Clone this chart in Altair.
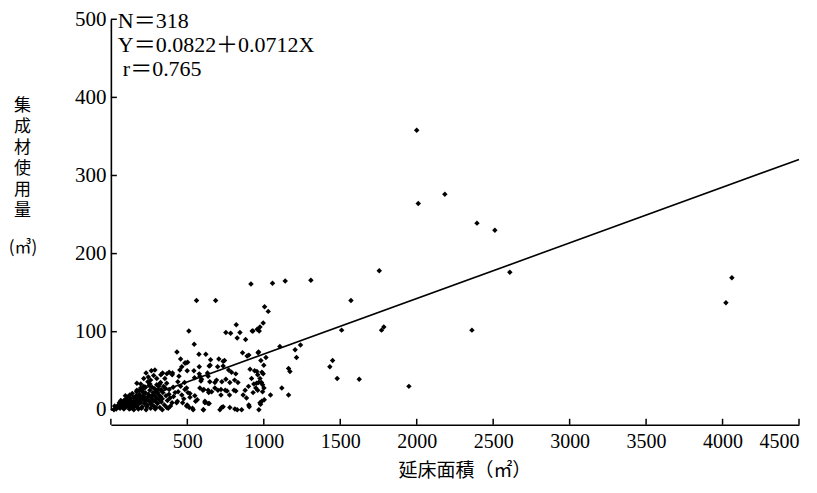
import altair as alt
import pandas as pd

# ---- data (延床面積 m², 集成材使用量 m³) ----
area = [
    2000, 2010, 2184, 2394, 2511, 2609, 2361, 4022, 4061,
    1755, 1570, 1308, 1140, 1057, 1005, 1029, 996, 1785, 1770, 1509, 1105, 1240, 1205, 1214,
    1014, 981, 1000, 1450, 1432, 1162, 1171, 988, 996, 1480, 1624, 992, 1001, 992, 1118,
    1044, 1162, 1949, 987, 979, 1003,
    916, 975, 970, 929, 963, 560, 685, 510, 820, 752, 783, 844, 826, 881, 924, 957,
    545, 432, 576, 621, 456, 502, 861, 891, 706, 734, 649, 632, 698, 789, 817, 955,
    652, 902, 966, 490, 464, 743, 734, 770, 643, 578, 543, 578, 484,
    288, 327, 366, 403, 353, 451, 499, 445, 547, 589, 582, 636, 680, 726, 691, 752,
    778, 809, 831, 817, 878, 948, 966, 953, 593, 647, 910, 940, 960, 975, 985, 960,
    930, 900, 935, 920, 338, 381, 401, 325, 438, 456, 482,
    902, 826, 734, 615, 643, 606, 495, 512, 534, 554, 375, 430, 477, 517, 440, 464,
    484, 504, 602, 640, 680, 720, 760, 805, 700, 748, 776, 720, 865, 887, 905, 855,
    975, 968, 495, 517, 549, 582, 608, 636, 659, 469, 499, 565, 615, 636, 604, 538,
    724, 778, 811, 713, 336, 387, 400, 435, 366, 336,
    242, 255, 227, 209, 188, 168, 124, 107, 85, 63, 41, 20, 286, 312, 329, 355, 381, 407,
    30, 45, 50, 60, 70, 75, 80, 90, 95, 100, 105, 110, 115, 120, 125, 130,
    135, 140, 145, 150, 155, 160, 165, 170, 175, 180, 185, 190, 195, 200, 205, 210,
    215, 220, 225, 230, 235, 240, 245, 250, 255, 260, 265, 270, 275, 280, 285, 290,
    295, 300, 305, 310, 315, 320, 325, 330, 340, 350, 360, 370, 380, 390, 410, 420,
    25, 35, 55, 65, 85, 100, 115, 130, 145, 160, 175, 190, 205, 220, 235, 250,
    265, 280, 295, 310, 120, 150, 180, 200, 230, 260, 290, 95, 140, 170, 195, 215,
    250, 270, 300, 320, 345, 365, 215, 245, 260, 170, 195, 280, 300, 230, 265,
]
volume = [
    358, 264, 276, 239, 230, 176, 102, 137, 169,
    178, 140, 166, 165, 162, 132, 126, 111, 106, 102, 102, 81, 83, 77, 67,
    67, 63, 57, 63, 55, 53, 49, 48, 46, 40, 39, 32, 28, 23, 28,
    19, 19, 30, 11, 7, 13,
    161, 106, 101, 101, 73, 140, 140, 101, 109, 99, 98, 99, 92, 90, 101, 103,
    84, 74, 71, 71, 65, 61, 73, 69, 65, 62, 57, 47, 55, 48, 46, 49,
    64, 70, 74, 60, 55, 63, 56, 51, 56, 55, 50, 46, 60,
    51, 45, 46, 47, 40, 51, 50, 43, 41, 37, 43, 43, 35, 36, 38, 39,
    35, 38, 35, 24, 25, 28, 35, 34, 39, 36, 52, 50, 45, 40, 35, 25,
    22, 30, 33, 40, 47, 48, 45, 35, 36, 30, 35,
    6, 0, 4, 9, 8, 0, 5, 3, 2, 11, 2, 9, 14, 16, 23, 19,
    26, 22, 25, 22, 28, 26, 24, 25, 25, 25, 19, 19, 19, 15, 4, 0,
    9, 0, 28, 21, 18, 28, 26, 25, 23, 9, 6, 13, 11, 8, 0, 0,
    3, 3, 1, 0, 14, 15, 9, 11, 3, 0,
    36, 33, 29, 26, 25, 23, 19, 15, 12, 9, 4, 0, 27, 30, 26, 28, 26, 29,
    2, 3, 6, 2, 5, 8, 3, 6, 10, 4, 8, 12, 5, 9, 14, 6,
    11, 3, 16, 8, 12, 5, 18, 10, 14, 7, 20, 12, 9, 16, 4, 13,
    19, 8, 22, 11, 15, 6, 20, 12, 25, 9, 17, 14, 22, 5, 18, 11,
    24, 15, 8, 20, 13, 3, 17, 10, 22, 6, 18, 12, 20, 5, 17, 22,
    5, 1, 9, 12, 1, 14, 17, 2, 7, 13, 3, 17, 23, 15, 4, 18,
    7, 12, 3, 26, 1, 0, 1, 2, 0, 2, 1, 18, 21, 25, 28, 30,
    31, 29, 32, 33, 30, 34, 40, 42, 38, 34, 33, 44, 40, 47, 50,
]

x_ticks = [0, 500, 1000, 1500, 2000, 2500, 3000, 3500, 4000, 4500]
y_ticks = [0, 100, 200, 300, 400, 500]
fit_x = [0, 4500]
intercept = 0.0822
slope = 0.0712
stats_lines = ["N＝318", "Y＝0.0822＋0.0712X"]
stats_r = "r＝0.765"
y_title = ["集", "成", "材", "使", "用", "量"]
y_unit = "(㎥)"
x_title = "延床面積（㎡）"

W, H = 689, 391
XOFF = 15
SERIF = "Liberation Serif, Noto Sans CJK JP"
CJK = "Noto Sans CJK JP"

pts = pd.DataFrame({"area": area, "volume": volume})
xs = alt.Scale(domain=[0, 4500], nice=False)
ys = alt.Scale(domain=[0, 500], nice=False)

x_axis = alt.Axis(
    values=x_ticks, format="d",
    labelExpr="datum.value == 0 ? '' : datum.label",
    offset=XOFF, tickSize=0, labelPadding=7, grid=False,
    domainColor="black", domainWidth=1.6,
    labelFont=SERIF, labelFontSize=20, labelColor="black",
    title=x_title, titleFont=CJK, titleFontSize=19, titleFontWeight="normal",
    titleColor="black", titleX=354, titleY=46, titleBaseline="middle",
)
y_axis = alt.Axis(
    values=y_ticks, format="d", tickSize=0, labelPadding=5, grid=False,
    domainColor="black", domainWidth=1.6,
    labelFont=SERIF, labelFontSize=21, labelColor="black",
    title=y_title, titleFont=CJK, titleFontSize=17, titleFontWeight="normal",
    titleColor="black", titleAngle=0, titleAlign="center", titleBaseline="top",
    titleX=-89, titleY=78, titleLineHeight=21,
)

points = alt.Chart(pts).mark_point(
    shape="diamond", filled=True, size=30, color="black", opacity=1
).encode(
    x=alt.X("area:Q", scale=xs, axis=x_axis),
    y=alt.Y("volume:Q", scale=ys, axis=y_axis),
)

fit = alt.Chart(pd.DataFrame({"area": fit_x})).transform_calculate(
    volume=f"{intercept} + {slope} * datum.area"
).mark_line(color="black", strokeWidth=1.6).encode(
    x=alt.X("area:Q", scale=xs, axis=x_axis),
    y=alt.Y("volume:Q", scale=ys, axis=y_axis),
)

xtick_layer = alt.Chart(pd.DataFrame({"area": x_ticks})).mark_rule(
    color="black", strokeWidth=1.5
).encode(
    x=alt.X("area:Q", scale=xs, axis=x_axis),
    y=alt.value(H + XOFF), y2=alt.value(H + XOFF - 6),
)

ytick_layer = alt.Chart(pd.DataFrame({"volume": y_ticks})).mark_rule(
    color="black", strokeWidth=1.5
).encode(
    y=alt.Y("volume:Q", scale=ys, axis=y_axis),
    x=alt.value(0), x2=alt.value(6),
)

stats = alt.Chart(pd.DataFrame({"k": [0]})).mark_text(
    align="left", baseline="top", font=SERIF, fontSize=22, lineHeight=24, color="black"
).encode(
    x=alt.value(7), y=alt.value(-8), text=alt.value(stats_lines)
)

stats2 = alt.Chart(pd.DataFrame({"k": [0]})).mark_text(
    align="left", baseline="top", font=SERIF, fontSize=22, color="black"
).encode(
    x=alt.value(12), y=alt.value(40), text=alt.value(stats_r)
)

unit = alt.Chart(pd.DataFrame({"k": [0]})).mark_text(
    align="center", baseline="middle", font=CJK, fontSize=17, color="black"
).encode(
    x=alt.value(-88), y=alt.value(229), text=alt.value(y_unit)
)

chart = alt.layer(points, fit, xtick_layer, ytick_layer, stats, stats2, unit).properties(
    width=W, height=H, autosize="none",
    padding={"left": 103, "top": 11, "right": 10, "bottom": 75},
    background="white",
).configure_view(stroke=None)

chart.save("out.html", embed_options={"renderer": "svg", "actions": False})
